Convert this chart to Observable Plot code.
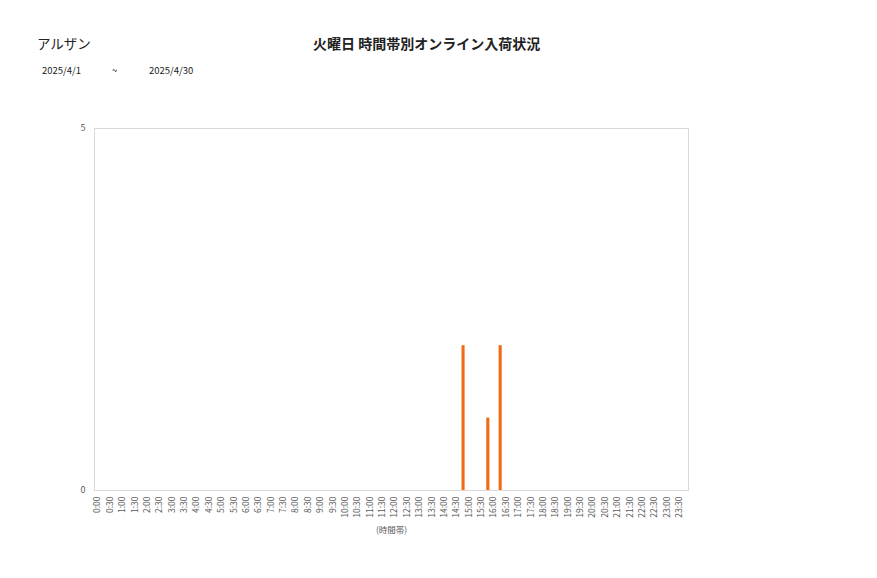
<!DOCTYPE html>
<html>
<head>
<meta charset="utf-8">
<script src="https://cdn.jsdelivr.net/npm/d3@7"></script>
<script src="https://cdn.jsdelivr.net/npm/@observablehq/plot@0.6"></script>
<style>
  body { margin: 0; background: #fff; font-family: "Noto Sans CJK JP", "Noto Sans", sans-serif; }
  #wrap { position: relative; width: 877px; height: 578px; overflow: hidden; }
  .t { position: absolute; white-space: nowrap; color: #222; }
  #chart { position: absolute; left: 0; top: 0; }
</style>
</head>
<body>
<div id="wrap">
  <div id="chart"></div>
  <div class="t" id="store" style="left:37px; top:33px; font-size:13.5px;">アルザン</div>
  <div class="t" id="title" style="left:313px; top:33px; font-size:14px; font-weight:bold;">火曜日 時間帯別オンライン入荷状況</div>
  <div class="t" style="left:42px; top:63px; font-size:9.5px;">2025/4/1</div>
  <div class="t" style="left:112px; top:63px; font-size:9.5px;">~</div>
  <div class="t" style="left:149px; top:63px; font-size:9.5px;">2025/4/30</div>
</div>
<script>
const times = [
  "0:00","0:30","1:00","1:30","2:00","2:30","3:00","3:30","4:00","4:30","5:00","5:30",
  "6:00","6:30","7:00","7:30","8:00","8:30","9:00","9:30","10:00","10:30","11:00","11:30",
  "12:00","12:30","13:00","13:30","14:00","14:30","15:00","15:30","16:00","16:30","17:00","17:30",
  "18:00","18:30","19:00","19:30","20:00","20:30","21:00","21:30","22:00","22:30","23:00","23:30"
];
const arrivalTimes = ["14:30", "15:30", "16:00"];
const arrivalCounts = [2, 1, 2];
const yTicks = [0, 5];
const xLabel = "(時間帯)";

const counts = new Map(arrivalTimes.map((t, i) => [t, arrivalCounts[i]]));
const data = times.map(t => ({time: t, value: counts.get(t) ?? 0}));

const chart = Plot.plot({
  width: 877,
  height: 578,
  marginLeft: 94,
  marginRight: 189,
  marginTop: 128,
  marginBottom: 88,
  style: {fontFamily: "'Noto Sans CJK JP', 'Noto Sans', sans-serif", fontSize: "9px", color: "#595959", background: "transparent"},
  x: {domain: times, paddingInner: 0.75, paddingOuter: 0.375, round: false},
  y: {domain: [0, 5]},
  marks: [
    Plot.frame({stroke: "#d9d9d9"}),
    Plot.barY(data.filter(d => d.value > 0), {x: "time", y: "value", fill: "#f26b12", dx: 4}),
    Plot.axisY({ticks: yTicks, tickFormat: "d", tickSize: 0, tickPadding: 9, label: null, fontSize: 9}),
    Plot.axisX({tickRotate: -90, tickSize: 0, tickPadding: 6, dx: -3, label: xLabel, labelAnchor: "center", labelArrow: "none", labelOffset: 42, fontSize: 8.5})
  ]
});
document.getElementById("chart").appendChild(chart);
</script>
</body>
</html>
